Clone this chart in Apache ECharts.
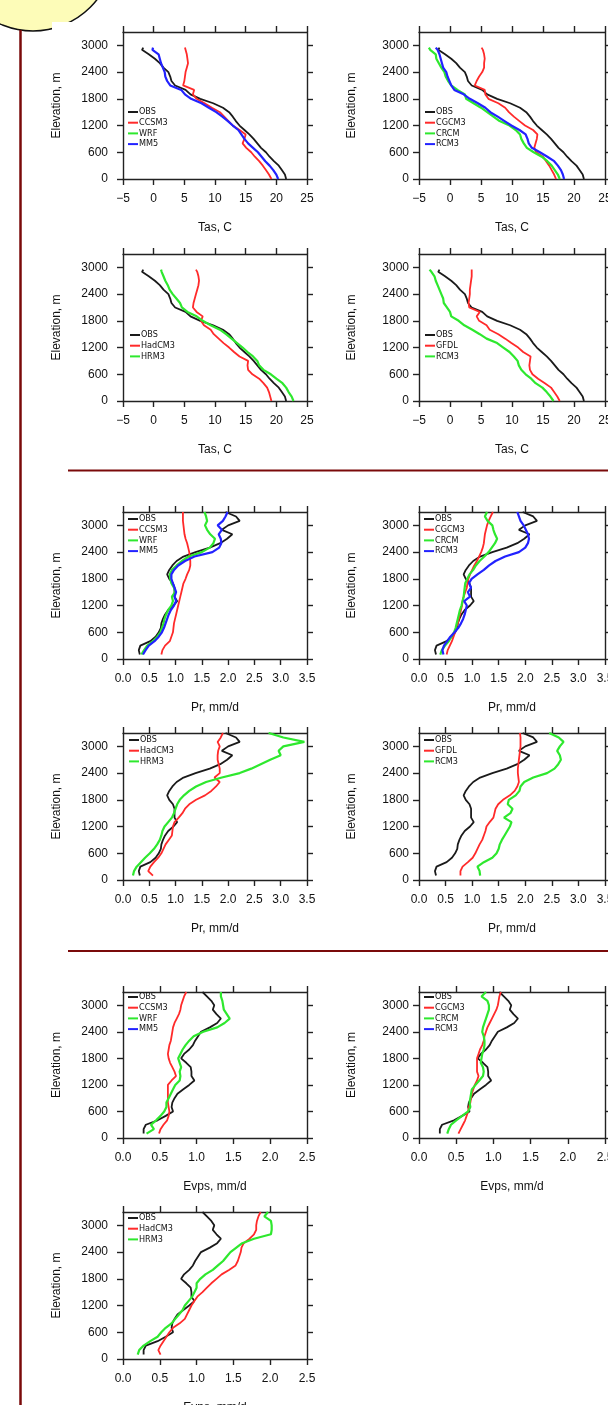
<!DOCTYPE html>
<html>
<head>
<meta charset="utf-8">
<script src="https://cdn.jsdelivr.net/npm/echarts@6/dist/echarts.min.js"></script>
<style>
html, body { margin: 0; padding: 0; background: #fff; }
#main { width: 608px; height: 1405px; }
</style>
</head>
<body>
<div id="main"></div>
<script>
// 高度层 (m)
var elevTas = [0,100,200,300,400,500,600,700,800,900,1000,1100,1200,1300,1400,1500,1600,1700,1800,1900,2000,2100,2200,2300,2400,2500,2600,2700,2800,2900,2950];
var elevPr = [100,200,300,400,500,600,700,800,900,1000,1100,1200,1300,1400,1500,1600,1700,1800,1900,2000,2100,2200,2300,2400,2500,2600,2700,2800,2900,3000,3100,3200,3300];
var elevTicks = [0,600,1200,1800,2400,3000];

// 气温 Tas, C
var tasObs     = [21.6,21.4,20.9,20.4,19.6,18.9,18.3,17.5,16.9,16.3,15.6,14.8,14.0,13.4,12.9,12.3,11.3,9.7,7.6,6.0,5.2,3.5,2.9,2.7,2.4,1.6,1.0,0.2,-0.8,-1.9,-1.7];
var tasCcsm3   = [19.2,18.8,18.3,17.8,17.2,16.5,15.9,15.1,14.5,14.8,15.0,14.0,12.9,12.2,11.5,10.8,9.5,8.3,7.0,6.4,6.6,4.8,5.0,5.1,5.2,5.4,5.6,5.5,5.4,5.2,5.1];
var tasMm5     = [20.3,20.0,19.5,18.9,18.2,17.6,17.0,16.2,15.4,14.8,14.3,13.8,12.9,12.1,11.2,10.2,9.0,7.8,6.1,5.1,4.5,2.7,2.2,1.9,1.8,1.5,1.2,1.0,0.8,-0.2,-0.1];
var tasCgcm3   = [17.1,16.8,16.4,16.0,15.5,15.0,13.9,13.6,13.8,14.0,14.1,13.4,12.1,11.2,10.3,9.5,8.9,7.8,6.2,5.7,5.6,4.0,4.3,4.7,5.2,5.5,5.5,5.6,5.5,5.3,5.1];
var tasCrcm    = [17.7,17.4,16.9,16.4,15.7,14.8,13.5,12.4,11.9,11.5,11.3,10.6,9.6,8.0,7.0,6.0,5.0,3.8,2.6,2.4,1.2,0.2,-0.3,-0.7,-0.9,-1.4,-1.8,-2.2,-2.3,-3.2,-3.4];
var tasRcm3Cg  = [18.4,18.2,17.9,17.4,16.8,15.7,14.5,13.2,12.7,12.5,12.2,11.2,9.9,8.8,7.7,6.5,5.7,4.5,3.2,2.2,0.7,0.2,-0.1,-0.4,-0.6,-1.1,-1.3,-1.5,-1.7,-2.0,-2.3];
var tasHadcm3  = [19.2,19.0,18.8,18.5,17.9,17.2,16.1,15.4,15.3,15.4,14.0,13.1,12.3,11.4,10.6,9.8,9.3,8.2,7.7,8.0,7.0,6.4,6.5,6.7,6.9,7.1,7.3,7.4,7.3,7.1,6.9];
var tasHrm3    = [22.8,22.5,22.0,21.6,21.0,20.0,19.1,17.9,17.2,16.9,16.2,15.3,14.5,13.6,12.7,11.8,10.8,9.3,8.0,7.0,5.5,4.6,4.3,3.7,3.1,2.6,2.3,1.9,1.6,1.3,1.2];
var tasGfdl    = [17.7,17.3,16.8,16.3,15.3,14.2,13.3,12.9,12.8,12.9,13.0,11.8,11.0,9.9,8.9,7.8,6.4,5.9,4.7,4.3,4.8,3.1,3.0,3.1,3.2,3.2,3.3,3.4,3.5,3.5,3.5];
var tasRcm3Gf  = [16.7,16.2,15.6,14.9,13.8,13.1,12.2,11.5,11.1,10.9,10.3,9.6,8.6,7.6,5.9,4.8,3.6,2.3,1.4,0.2,0.0,-0.5,-1.0,-1.1,-1.4,-1.7,-2.0,-2.3,-2.5,-3.0,-3.3];

// 降水 Pr, mm/d
var prObs      = [0.32,0.30,0.33,0.52,0.62,0.68,0.72,0.73,0.76,0.80,0.86,0.96,1.03,0.98,0.98,0.98,0.95,0.88,0.84,0.88,0.94,1.02,1.15,1.38,1.65,1.85,1.98,2.08,1.88,2.00,2.22,2.15,1.95];
var prCcsm3    = [0.73,0.75,0.80,0.89,0.92,0.95,0.96,0.97,0.99,1.01,1.03,1.05,1.07,1.09,1.11,1.13,1.15,1.19,1.22,1.26,1.28,1.28,1.27,1.26,1.24,1.22,1.19,1.17,1.16,1.15,1.14,1.14,1.14];
var prWrf      = [0.35,0.40,0.46,0.57,0.65,0.71,0.74,0.77,0.79,0.82,0.86,0.92,0.95,0.93,0.99,0.97,0.92,0.90,0.89,0.93,1.02,1.12,1.25,1.50,1.65,1.72,1.75,1.66,1.60,1.56,1.60,1.58,1.55];
var prMm5      = [0.38,0.43,0.49,0.60,0.68,0.74,0.78,0.81,0.84,0.87,0.91,0.97,1.01,0.98,1.01,0.98,0.95,0.92,0.92,0.97,1.05,1.18,1.36,1.70,1.83,1.87,1.86,1.82,1.88,1.80,1.90,1.95,1.99];
var prCgcm3    = [0.52,0.54,0.58,0.62,0.65,0.68,0.70,0.73,0.75,0.77,0.79,0.81,0.82,0.84,0.87,0.90,0.91,0.93,0.96,1.00,1.04,1.09,1.13,1.17,1.20,1.22,1.23,1.24,1.26,1.28,1.31,1.35,1.39];
var prCrcm     = [0.40,0.43,0.49,0.56,0.61,0.66,0.69,0.71,0.73,0.75,0.77,0.80,0.82,0.84,0.85,0.86,0.87,0.91,0.95,1.02,1.07,1.14,1.23,1.31,1.37,1.43,1.47,1.43,1.40,1.38,1.29,1.24,1.28];
var prRcm3Cg   = [0.46,0.44,0.47,0.53,0.59,0.67,0.74,0.79,0.83,0.86,0.88,0.90,0.85,0.96,0.92,0.98,0.94,0.99,1.10,1.22,1.32,1.44,1.62,1.88,2.00,2.05,2.07,2.05,2.01,1.97,1.91,1.88,1.85];
var prHadcm3   = [0.57,0.48,0.52,0.59,0.67,0.73,0.77,0.81,0.87,0.93,0.94,0.95,0.98,1.06,1.13,1.18,1.26,1.39,1.56,1.68,1.77,1.84,1.74,1.84,1.84,1.82,1.80,1.80,1.81,1.84,1.80,1.86,1.90];
var prHrm3     = [0.19,0.21,0.26,0.34,0.42,0.51,0.59,0.65,0.70,0.73,0.75,0.79,0.86,0.93,0.97,1.00,1.03,1.08,1.16,1.26,1.39,1.58,1.88,2.22,2.44,2.62,2.80,3.00,2.96,3.05,3.45,3.05,2.77];
var prGfdl     = [0.78,0.78,0.82,0.92,1.01,1.06,1.10,1.14,1.19,1.22,1.25,1.27,1.33,1.40,1.42,1.44,1.49,1.58,1.71,1.80,1.85,1.88,1.87,1.86,1.86,1.87,1.88,1.89,1.90,1.91,1.91,1.91,1.90];
var prRcm3Gf   = [1.15,1.14,1.10,1.22,1.38,1.46,1.50,1.52,1.56,1.61,1.66,1.71,1.74,1.60,1.72,1.76,1.67,1.69,1.82,1.89,1.91,1.98,2.15,2.41,2.55,2.62,2.67,2.65,2.60,2.65,2.72,2.63,2.45];

// 蒸发 Evps, mm/d
var evObs      = [0.28,0.28,0.31,0.47,0.58,0.68,0.66,0.67,0.70,0.74,0.82,0.90,0.97,0.93,0.93,0.92,0.86,0.79,0.83,0.90,0.95,0.98,1.02,1.06,1.18,1.28,1.33,1.27,1.22,1.24,1.20,1.14,1.08];
var evCcsm3    = [0.49,0.51,0.55,0.60,0.62,0.63,0.62,0.61,0.61,0.61,0.61,0.61,0.66,0.72,0.70,0.67,0.64,0.62,0.61,0.62,0.63,0.65,0.66,0.67,0.68,0.70,0.73,0.76,0.78,0.79,0.81,0.83,0.86];
var evWrf      = [0.32,0.42,0.38,0.45,0.51,0.56,0.59,0.59,0.62,0.65,0.68,0.71,0.77,0.78,0.77,0.79,0.77,0.75,0.78,0.81,0.85,0.90,0.96,1.09,1.28,1.38,1.45,1.41,1.37,1.36,1.35,1.33,1.33];
var evCgcm3    = [0.53,0.56,0.59,0.62,0.64,0.66,0.67,0.69,0.70,0.71,0.73,0.75,0.78,0.80,0.78,0.78,0.78,0.78,0.80,0.82,0.85,0.87,0.88,0.90,0.92,0.95,0.98,1.01,1.04,1.06,1.07,1.08,1.10];
var evCrcm     = [0.38,0.40,0.43,0.50,0.58,0.66,0.69,0.68,0.69,0.70,0.71,0.76,0.81,0.86,0.87,0.86,0.83,0.84,0.85,0.87,0.88,0.88,0.87,0.85,0.86,0.88,0.90,0.92,0.94,0.94,0.92,0.84,0.90];
var evHadcm3   = [0.51,0.48,0.51,0.55,0.59,0.63,0.68,0.77,0.84,0.87,0.90,0.93,0.97,1.01,1.08,1.14,1.20,1.27,1.34,1.44,1.53,1.56,1.58,1.60,1.61,1.64,1.72,1.78,1.81,1.81,1.82,1.84,1.87];
var evHrm3     = [0.20,0.22,0.28,0.37,0.47,0.52,0.58,0.66,0.71,0.76,0.81,0.84,0.89,0.94,0.97,1.00,1.00,1.05,1.12,1.22,1.29,1.36,1.41,1.46,1.54,1.62,1.78,2.01,2.02,2.02,2.01,1.92,1.97];

// 样式
var FONT = 'Liberation Sans, Arial, Helvetica, sans-serif';
var NARROW = 'Liberation Sans Narrow, DejaVu Sans Condensed, Liberation Sans, sans-serif';
var AXIS_COLOR = '#222';
var DARK_RED = '#7a0a0a';
var C_OBS = '#1a1a1a', C_RED = '#ff2a2a', C_GREEN = '#2ee82e', C_BLUE = '#2222ff';

var kinds = {
	tas: { elev: elevTas, min: -5, max: 25, step: 5, name: 'Tas, C',
		fmt: function (v) { return v < 0 ? '\u2212' + Math.abs(v) : String(v); } },
	pr: { elev: elevPr, min: 0, max: 3.5, step: 0.5, name: 'Pr, mm/d',
		fmt: function (v) { return v.toFixed(1); } },
	ev: { elev: elevPr, min: 0, max: 2.5, step: 0.5, name: 'Evps, mm/d',
		fmt: function (v) { return v.toFixed(1); } }
};

// 面板布局
var panels = [
	{ kind: 'tas', col: 0, box: [123, 32, 184, 147], leg: [128, 112],
	  items: [['OBS', C_OBS], ['CCSM3', C_RED], ['WRF', C_GREEN], ['MM5', C_BLUE]],
	  lines: [[tasObs, C_OBS, 'OBS'], [tasCcsm3, C_RED, 'CCSM3'], [tasMm5, C_BLUE, 'MM5']] },
	{ kind: 'tas', col: 1, box: [419, 32, 186, 147], leg: [425, 112],
	  items: [['OBS', C_OBS], ['CGCM3', C_RED], ['CRCM', C_GREEN], ['RCM3', C_BLUE]],
	  lines: [[tasObs, C_OBS, 'OBS'], [tasCgcm3, C_RED, 'CGCM3'], [tasCrcm, C_GREEN, 'CRCM'], [tasRcm3Cg, C_BLUE, 'RCM3']] },
	{ kind: 'tas', col: 0, box: [123, 254, 184, 147], leg: [130, 335],
	  items: [['OBS', C_OBS], ['HadCM3', C_RED], ['HRM3', C_GREEN]],
	  lines: [[tasObs, C_OBS, 'OBS'], [tasHadcm3, C_RED, 'HadCM3'], [tasHrm3, C_GREEN, 'HRM3']] },
	{ kind: 'tas', col: 1, box: [419, 254, 186, 147], leg: [425, 335],
	  items: [['OBS', C_OBS], ['GFDL', C_RED], ['RCM3', C_GREEN]],
	  lines: [[tasObs, C_OBS, 'OBS'], [tasGfdl, C_RED, 'GFDL'], [tasRcm3Gf, C_GREEN, 'RCM3']] },
	{ kind: 'pr', col: 0, box: [123, 512, 184, 147], leg: [128, 519],
	  items: [['OBS', C_OBS], ['CCSM3', C_RED], ['WRF', C_GREEN], ['MM5', C_BLUE]],
	  lines: [[prObs, C_OBS, 'OBS'], [prCcsm3, C_RED, 'CCSM3'], [prWrf, C_GREEN, 'WRF'], [prMm5, C_BLUE, 'MM5']] },
	{ kind: 'pr', col: 1, box: [419, 512, 186, 147], leg: [424, 519],
	  items: [['OBS', C_OBS], ['CGCM3', C_RED], ['CRCM', C_GREEN], ['RCM3', C_BLUE]],
	  lines: [[prObs, C_OBS, 'OBS'], [prCgcm3, C_RED, 'CGCM3'], [prCrcm, C_GREEN, 'CRCM'], [prRcm3Cg, C_BLUE, 'RCM3']] },
	{ kind: 'pr', col: 0, box: [123, 733, 184, 147], leg: [129, 740],
	  items: [['OBS', C_OBS], ['HadCM3', C_RED], ['HRM3', C_GREEN]],
	  lines: [[prObs, C_OBS, 'OBS'], [prHadcm3, C_RED, 'HadCM3'], [prHrm3, C_GREEN, 'HRM3']] },
	{ kind: 'pr', col: 1, box: [419, 733, 186, 147], leg: [424, 740],
	  items: [['OBS', C_OBS], ['GFDL', C_RED], ['RCM3', C_GREEN]],
	  lines: [[prObs, C_OBS, 'OBS'], [prGfdl, C_RED, 'GFDL'], [prRcm3Gf, C_GREEN, 'RCM3']] },
	{ kind: 'ev', col: 0, box: [123, 992, 184, 146], leg: [128, 997],
	  items: [['OBS', C_OBS], ['CCSM3', C_RED], ['WRF', C_GREEN], ['MM5', C_BLUE]],
	  lines: [[evObs, C_OBS, 'OBS'], [evCcsm3, C_RED, 'CCSM3'], [evWrf, C_GREEN, 'WRF']] },
	{ kind: 'ev', col: 1, box: [419, 992, 186, 146], leg: [424, 997],
	  items: [['OBS', C_OBS], ['CGCM3', C_RED], ['CRCM', C_GREEN], ['RCM3', C_BLUE]],
	  lines: [[evObs, C_OBS, 'OBS'], [evCgcm3, C_RED, 'CGCM3'], [evCrcm, C_GREEN, 'CRCM']] },
	{ kind: 'ev', col: 0, box: [123, 1212, 184, 147], leg: [128, 1218],
	  items: [['OBS', C_OBS], ['HadCM3', C_RED], ['HRM3', C_GREEN]],
	  lines: [[evObs, C_OBS, 'OBS'], [evHadcm3, C_RED, 'HadCM3'], [evHrm3, C_GREEN, 'HRM3']] }
];

function pairs(xs, ys) {
	return xs.map(function (x, i) { return [x, ys[i]]; });
}

var chart = echarts.init(document.getElementById('main'));
var grids = [], xAxes = [], yAxes = [], series = [], legends = [];
var axisLine = { color: AXIS_COLOR, width: 1.4 };
var labelText = { fontSize: 12, color: '#111', fontFamily: FONT };

panels.forEach(function (p, i) {
	var k = kinds[p.kind];
	// 不让 v6 为了容纳刻度标签而收缩网格
	grids.push({ left: p.box[0], top: p.box[1], width: p.box[2], height: p.box[3],
		containLabel: false, outerBoundsMode: 'none' });

	// 下/上 x 轴
	xAxes.push({
		gridIndex: i, type: 'value', position: 'bottom', min: k.min, max: k.max, interval: k.step,
		axisLine: { onZero: false, lineStyle: axisLine },
		axisTick: { inside: false, length: 6, lineStyle: axisLine },
		axisLabel: Object.assign({ margin: 14, formatter: k.fmt }, labelText),
		splitLine: { show: false },
		name: k.name, nameLocation: 'middle', nameGap: 43, nameTextStyle: labelText
	});
	xAxes.push({
		gridIndex: i, type: 'value', position: 'top', min: k.min, max: k.max, interval: k.step,
		axisLine: { onZero: false, lineStyle: axisLine },
		axisTick: { inside: false, length: 6, lineStyle: axisLine },
		axisLabel: { show: false }, splitLine: { show: false }
	});

	// 左/右 y 轴
	yAxes.push({
		gridIndex: i, type: 'value', position: 'left', min: 0, max: 3300,
		axisLine: { onZero: false, lineStyle: axisLine },
		axisTick: { inside: false, length: 6, lineStyle: axisLine, customValues: elevTicks },
		axisLabel: Object.assign({
			margin: p.col ? 10 : 15, customValues: elevTicks,
			formatter: function (v) { return String(v); }
		}, labelText),
		splitLine: { show: false },
		name: 'Elevation, m', nameLocation: 'middle', nameRotate: 90, nameGap: p.col ? 61 : 60,
		nameTextStyle: labelText
	});
	yAxes.push({
		gridIndex: i, type: 'value', position: 'right', min: 0, max: 3300,
		axisLine: { onZero: false, lineStyle: axisLine },
		axisTick: { inside: false, length: 6, lineStyle: axisLine, customValues: elevTicks },
		axisLabel: { show: false }, splitLine: { show: false }
	});

	// 廓线
	p.lines.forEach(function (ln) {
		series.push({
			type: 'line', name: ln[2], xAxisIndex: 2 * i, yAxisIndex: 2 * i,
			data: pairs(ln[0], k.elev), showSymbol: false, silent: true,
			color: ln[1],
			lineStyle: { color: ln[1], width: ln[1] === C_GREEN || ln[1] === C_BLUE ? 2.2 : 1.8 }
		});
	});

	// 图例
	legends.push({
		orient: 'vertical', left: p.leg[0], top: p.leg[1] - 5, padding: 0, itemGap: 0.7,
		itemWidth: 10, itemHeight: 2, icon: 'rect', selectedMode: false,
		textStyle: { fontSize: 9, fontFamily: NARROW, color: '#111', lineHeight: 10, padding: [0, 0, 0, -4] },
		data: p.items.map(function (it) {
			return { name: it[0], icon: 'rect', itemStyle: { color: it[1], borderWidth: 0 } };
		})
	});
});

chart.setOption({
	backgroundColor: '#fff',
	animation: false,
	grid: grids,
	xAxis: xAxes,
	yAxis: yAxes,
	legend: legends,
	series: series,
	graphic: [
		{ type: 'circle', z: -20, shape: { cx: 33, cy: -50, r: 81 }, style: { fill: '#fdfcb8', stroke: '#111', lineWidth: 1.5 } },
		{ type: 'rect', z: -10, shape: { x: 52, y: 22, width: 556, height: 1383 }, style: { fill: '#fff' } },
		{ type: 'line', shape: { x1: 20.5, y1: 30, x2: 20.5, y2: 1405 }, style: { stroke: DARK_RED, lineWidth: 2.5 } },
		{ type: 'line', shape: { x1: 68, y1: 470.5, x2: 608, y2: 470.5 }, style: { stroke: DARK_RED, lineWidth: 2 } },
		{ type: 'line', shape: { x1: 68, y1: 951, x2: 608, y2: 951 }, style: { stroke: DARK_RED, lineWidth: 2 } }
	]
});
</script>
</body>
</html>
